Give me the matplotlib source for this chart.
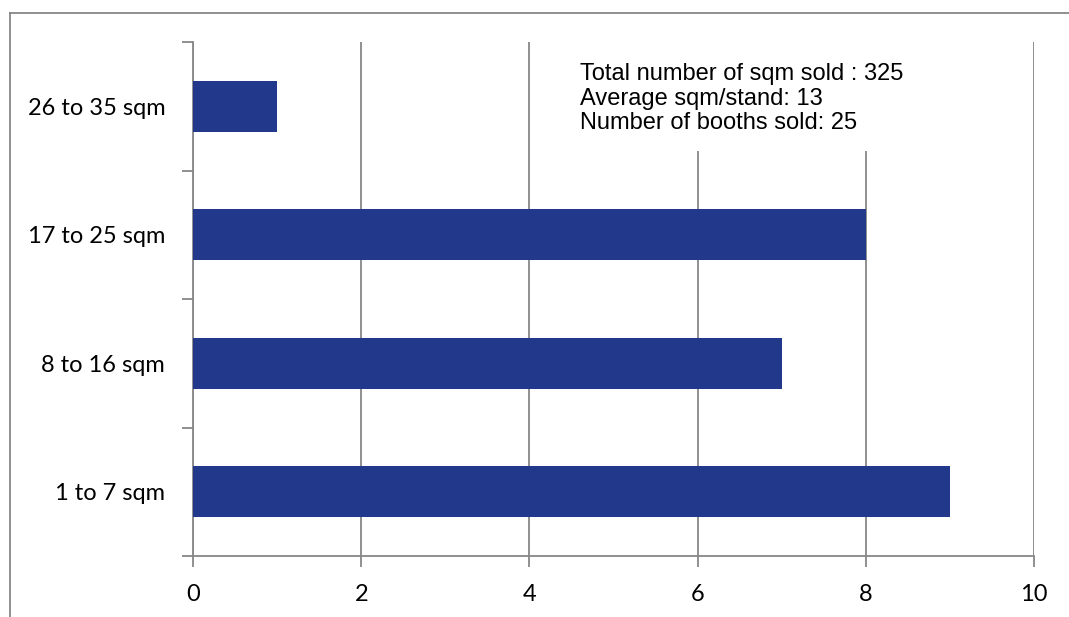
import matplotlib.pyplot as plt
from matplotlib.lines import Line2D
from matplotlib.patches import Rectangle
import numpy as np

categories = ['1 to 7 sqm', '8 to 16 sqm', '17 to 25 sqm', '26 to 35 sqm']
booths = [9, 7, 8, 1]
info_lines = ['Total number of sqm sold : 325',
              'Average sqm/stand: 13',
              'Number of booths sold: 25']

grid_color = '#878787'
bar_color = '#22398B'

fig = plt.figure(figsize=(10.69, 6.17), dpi=100)
ax = fig.add_axes([193 / 1069, 1 - 556 / 617, (1034 - 193) / 1069, (556 - 42) / 617])

y = np.arange(len(categories))
ax.barh(y, booths, height=0.4, color=bar_color, zorder=3)

ax.set_xlim(0, 10)
ax.set_ylim(-0.5, len(categories) - 0.5)
ax.set_xticks(np.arange(0, 11, 2))
ax.set_yticks(y)
ax.set_yticklabels(categories)
ax.set_yticks(np.arange(-0.5, len(categories), 1), minor=True)

ax.grid(axis='x', color=grid_color, linewidth=1.3, zorder=0)
for side in ['top', 'right']:
    ax.spines[side].set_visible(False)
for side in ['left', 'bottom']:
    ax.spines[side].set_color(grid_color)
    ax.spines[side].set_linewidth(1.3)

ax.tick_params(axis='y', which='major', length=0, pad=20, labelsize=17)
ax.tick_params(axis='y', which='minor', length=8, width=1.3, color=grid_color)
ax.tick_params(axis='x', length=8, width=1.3, color=grid_color, pad=12, labelsize=17)
for lbl in ax.get_xticklabels() + ax.get_yticklabels():
    lbl.set_family(['Lato', 'DejaVu Sans'])

# white box behind the summary text hides the gridlines there
fig.add_artist(Rectangle((568 / 1069, 1 - 151 / 617), (1010 - 568) / 1069, (151 - 40) / 617,
                         transform=fig.transFigure, facecolor='white', edgecolor='none', zorder=1))
fig.text(580 / 1069, 1 - 63 / 617, '\n'.join(info_lines),
         fontsize=17, family=['Liberation Sans', 'DejaVu Sans'], va='top', ha='left',
         linespacing=1.15, zorder=2)

# chart area border (cut off at right and bottom)
fig.add_artist(Line2D([9.5 / 1069, 1], [1 - 13 / 617, 1 - 13 / 617],
                      transform=fig.transFigure, color=grid_color, linewidth=1.3))
fig.add_artist(Line2D([9.5 / 1069, 9.5 / 1069], [1 - 13 / 617, 0],
                      transform=fig.transFigure, color=grid_color, linewidth=1.3))

fig.savefig('out.png', dpi=100)
